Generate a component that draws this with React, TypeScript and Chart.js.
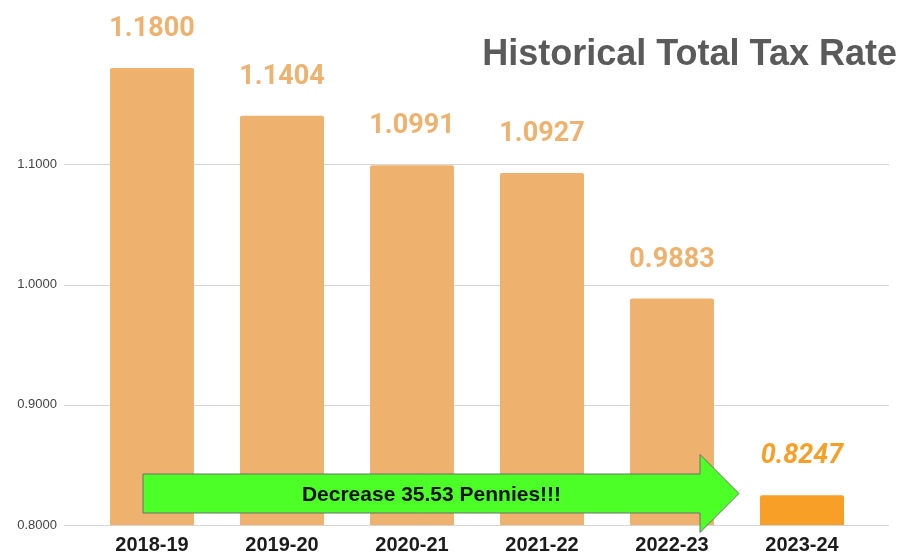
import React, { useEffect, useRef } from 'react';
import { Chart, registerables } from 'chart.js';

Chart.register(...registerables);

const categories = ['2018-19', '2019-20', '2020-21', '2021-22', '2022-23', '2023-24'];
const taxRates = [1.18, 1.1404, 1.0991, 1.0927, 0.9883, 0.8247];
const valueLabels = ['1.1800', '1.1404', '1.0991', '1.0927', '0.9883', '0.8247'];
const yTickValues = [0.8, 0.9, 1.0, 1.1];
const titleText = 'Historical Total Tax Rate';
const arrowText = 'Decrease 35.53 Pennies!!!';

const BAR_LIGHT = '#EFB26E';
const BAR_DARK = '#F79F27';

const overlayPlugin = {
  id: 'overlay',
  beforeDatasetsDraw(chart: any) {
    const { ctx, chartArea, scales } = chart;
    ctx.save();
    ctx.strokeStyle = '#d6d6d6';
    ctx.lineWidth = 1;
    yTickValues.forEach((v) => {
      const y = Math.round(scales.y.getPixelForValue(v)) + 0.5;
      ctx.beginPath();
      ctx.moveTo(chartArea.left - 23, y);
      ctx.lineTo(chartArea.right + 22, y);
      ctx.stroke();
    });
    ctx.restore();
  },
  afterDatasetsDraw(chart: any) {
    const { ctx, scales } = chart;
    const meta = chart.getDatasetMeta(0);
    ctx.save();
    meta.data.forEach((el: any, i: number) => {
      const last = i === meta.data.length - 1;
      ctx.font = (last ? 'italic ' : '') + 'bold 27px Roboto, Arial, sans-serif';
      ctx.fillStyle = last ? BAR_DARK : BAR_LIGHT;
      ctx.textAlign = 'center';
      ctx.textBaseline = 'alphabetic';
      ctx.fillText(valueLabels[i], el.x, el.y - 32);
    });

    ctx.font = 'bold 36px "Liberation Sans", Arial, sans-serif';
    ctx.fillStyle = '#5a5a5a';
    ctx.textAlign = 'right';
    ctx.textBaseline = 'alphabetic';
    ctx.fillText(titleText, chart.width - 2, 65);

    const x0 = scales.x.getPixelForValue(0) - 9;
    const xh = scales.x.getPixelForValue(4) + 28;
    const xt = xh + 39;
    const cy = scales.y.getPixelForValue(0.8) - 31.5;
    const bh = 19.5;
    const hh = 39;
    ctx.beginPath();
    ctx.moveTo(x0, cy - bh);
    ctx.lineTo(xh, cy - bh);
    ctx.lineTo(xh, cy - hh);
    ctx.lineTo(xt, cy);
    ctx.lineTo(xh, cy + hh);
    ctx.lineTo(xh, cy + bh);
    ctx.lineTo(x0, cy + bh);
    ctx.closePath();
    ctx.fillStyle = '#4BFF27';
    ctx.fill();
    ctx.strokeStyle = '#6f6f6f';
    ctx.lineWidth = 1;
    ctx.stroke();

    ctx.font = 'bold 21px "Liberation Sans", Arial, sans-serif';
    ctx.fillStyle = '#111111';
    ctx.textAlign = 'center';
    ctx.textBaseline = 'middle';
    ctx.fillText(arrowText, (x0 + xh) / 2 + 10, cy + 2);
    ctx.restore();
  },
};

export default function App() {
  const canvasRef = useRef<HTMLCanvasElement | null>(null);

  useEffect(() => {
    if (!canvasRef.current) return;
    const chart = new Chart(canvasRef.current, {
      type: 'bar',
      data: {
        labels: categories,
        datasets: [
          {
            data: taxRates,
            backgroundColor: taxRates.map((_, i) => (i === taxRates.length - 1 ? BAR_DARK : BAR_LIGHT)),
            borderWidth: 0,
            borderRadius: { topLeft: 2, topRight: 2, bottomLeft: 0, bottomRight: 0 },
            borderSkipped: 'bottom',
            categoryPercentage: 1,
            barPercentage: 0.646,
          },
        ],
      },
      options: {
        animation: false,
        responsive: true,
        maintainAspectRatio: false,
        layout: { padding: { top: 44, right: 32, left: 0, bottom: 0 } },
        plugins: {
          legend: { display: false },
          tooltip: { enabled: false },
          title: { display: false },
        },
        scales: {
          x: {
            grid: { display: false, drawTicks: false, tickLength: 0 },
            border: { display: false },
            ticks: {
              color: '#1c1c1c',
              padding: 8,
              font: { family: '"Liberation Sans", Arial, sans-serif', size: 20, weight: 'bold' },
            },
            afterFit(scale: any) {
              scale.height = 34;
            },
          },
          y: {
            min: 0.8,
            max: 1.2,
            grid: {
              display: true,
              drawOnChartArea: false,
              drawTicks: true,
              tickLength: 30,
              color: 'rgba(0,0,0,0)',
            },
            border: { display: false },
            afterBuildTicks(scale: any) {
              scale.ticks = yTickValues.map((v) => ({ value: v }));
            },
            afterFit(scale: any) {
              scale.width = 87;
            },
            ticks: {
              padding: 0,
              color: '#444444',
              font: { family: '"Liberation Sans", Arial, sans-serif', size: 13 },
              callback: (v: any) => Number(v).toFixed(4),
            },
          },
        },
      },
      plugins: [overlayPlugin],
    });
    return () => chart.destroy();
  }, []);

  return (
    <div style={{ position: 'fixed', left: 0, top: 0, width: 899, height: 559, background: '#ffffff' }}>
      <canvas ref={canvasRef} />
    </div>
  );
}
